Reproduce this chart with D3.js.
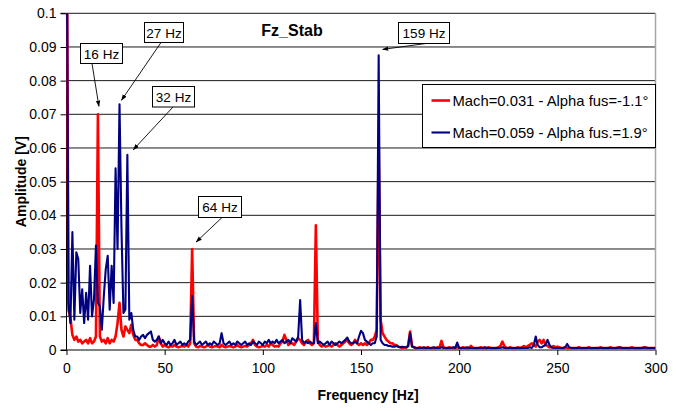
<!DOCTYPE html>
<html>
<head>
<meta charset="utf-8">
<script src="https://cdn.jsdelivr.net/npm/d3@7"></script>
<style>
  html, body { margin: 0; padding: 0; background: #fff; }
  svg { display: block; font-family: "Liberation Sans", Arial, sans-serif; }
</style>
</head>
<body>
<svg id="chart" width="685" height="411"></svg>
<script>
// ---- data (amplitude in mV, one sample per Hz, index = frequency in Hz) ----
const freqStepHz = 1;
const seriesNames = ["Mach=0.031 - Alpha fus=-1.1°", "Mach=0.059 - Alpha fus.=1.9°"];
const seriesColors = ["#ff0000", "#000080"];

const redAmp_mV = [
  150, 12, 9.5, 4.5, 3, 4, 2.5, 3, 2, 2.5,
  3, 2, 3.5, 2, 2.5, 4, 70, 4, 2.5, 3,
  2, 3.5, 2, 3, 2.5, 4, 8, 14, 6, 4,
  7, 6, 5, 7.5, 4.5, 3, 3, 2, 1.5, 1.5,
  2, 1.5, 1, 1, 1.5, 1, 1.5, 4, 2, 1,
  1.5, 1, 0.8, 1.2, 1, 1.5, 1, 0.8, 1, 1.2,
  1, 1.5, 1, 2, 30, 2, 1, 0.8, 1.2, 1,
  0.8, 1, 1.5, 1, 0.8, 1, 1.2, 1, 0.8, 1.5,
  1, 0.8, 1, 1.2, 1, 0.8, 1, 1.5, 1, 0.8,
  1, 1.2, 1, 1.5, 2, 3, 1.5, 1, 0.8, 1,
  1.2, 1, 1.5, 1, 2, 1.5, 1, 1.2, 1, 2,
  2.5, 4.5, 3, 1.5, 2, 2, 1.5, 2.5, 3.5, 3,
  2, 1.5, 2.5, 3, 2, 1.5, 2, 37, 3, 1.5,
  1, 1.5, 1, 1.2, 1.5, 1, 1.5, 2, 1.5, 1,
  1.5, 2, 2.5, 3, 2, 1.5, 2, 3, 2, 1.5,
  2, 1.5, 2, 1.5, 2, 3, 3, 4, 6, 62,
  9, 5, 4, 3, 2.5, 2, 2, 1.5, 1.5, 1,
  0.8, 0.6, 0.8, 0.7, 1.2, 5.5, 1.2, 0.8, 0.6, 0.6,
  0.8, 0.6, 0.6, 0.6, 0.8, 0.6, 0.6, 0.6, 0.6, 0.8,
  0.8, 2.7, 0.8, 0.6, 0.6, 0.8, 0.6, 0.6, 0.6, 0.8,
  0.6, 0.6, 0.8, 0.6, 0.6, 0.6, 1.2, 0.6, 0.6, 0.6,
  0.6, 0.8, 0.6, 0.6, 0.6, 0.8, 0.6, 0.6, 0.6, 0.6,
  0.8, 1.2, 2.5, 1.2, 0.6, 0.6, 0.8, 0.6, 0.6, 0.6,
  0.8, 0.6, 0.8, 1.2, 0.8, 1.2, 1.5, 2, 1.5, 1,
  2.5, 3, 2, 3, 1.5, 1.2, 0.8, 0.8, 1.2, 0.8,
  1, 0.8, 0.6, 0.6, 0.8, 0.6, 0.6, 0.6, 0.6, 0.6,
  0.6, 0.8, 0.6, 0.6, 0.6, 0.6, 0.8, 0.6, 0.6, 0.6,
  0.6, 0.6, 0.8, 0.6, 0.6, 0.6, 0.6, 0.8, 0.6, 0.6,
  0.6, 0.8, 0.6, 0.6, 0.6, 0.6, 0.6, 0.6, 0.8, 0.6,
  0.6, 0.6, 0.6, 0.6, 0.8, 0.6, 0.6, 0.6, 0.6, 0.6,
  0.6
];

const blueAmp_mV = [
  150, 14, 8, 35, 9, 29, 27, 11, 18, 8,
  17, 9, 25, 10, 15, 31, 14, 13, 6, 16,
  24, 28, 12, 25, 14, 54, 30, 73, 36, 11,
  12, 58, 9, 11, 6, 4, 4, 3, 4, 4.5,
  3.5, 4.5, 5, 5.5, 3, 2.5, 3, 4, 2, 3,
  2, 1.5, 2.5, 1.5, 2, 3, 1.5, 2, 2.5, 1.5,
  2, 1.5, 2.5, 3, 16, 2.5, 1.5, 2, 2.5, 1.5,
  2, 2.5, 1.5, 2, 1.5, 2.5, 2, 1.5, 2, 5,
  2, 1.5, 2, 2.5, 1.5, 2, 1.5, 2.5, 2, 1.5,
  2, 2.5, 1.5, 2, 1.5, 2.5, 2, 1.5, 2.5, 2,
  1.5, 2.5, 2, 3, 2, 2.5, 2, 3, 2, 2.5,
  3, 2, 2.5, 3, 2, 3.5, 3, 2.5, 4, 14.8,
  3, 2, 2.5, 2, 2.5, 2, 2, 8, 2, 2.5,
  2, 1.5, 2, 2.5, 1.5, 2.5, 2, 1.5, 2, 2.5,
  2, 2.5, 3, 3.7, 2.5, 2, 2, 2.5, 2, 4,
  5.7, 5, 3, 2.5, 2, 1.5, 2, 2, 4, 87.5,
  3, 2, 1.5, 1.5, 1.2, 1.2, 1, 1, 1.2, 1,
  0.8, 1, 0.8, 0.8, 1.2, 5, 1, 0.8, 0.6, 0.6,
  0.6, 0.6, 0.8, 0.6, 0.6, 0.6, 0.6, 0.8, 0.6, 0.6,
  0.6, 0.8, 0.6, 0.6, 0.6, 0.6, 0.6, 0.8, 0.6, 2.2,
  0.6, 0.6, 0.6, 0.6, 0.8, 0.6, 0.6, 0.6, 0.6, 0.6,
  0.6, 0.6, 0.6, 0.8, 0.6, 0.6, 0.6, 0.6, 0.6, 0.6,
  0.6, 0.6, 0.8, 0.6, 0.6, 0.6, 0.6, 0.6, 0.6, 0.6,
  0.6, 0.6, 0.6, 0.6, 0.6, 0.6, 0.8, 0.6, 1.5, 4,
  1.5, 0.8, 0.8, 1.2, 1.5, 3, 1.5, 0.8, 0.6, 0.6,
  0.6, 0.6, 0.6, 0.6, 0.8, 1.8, 0.8, 0.6, 0.6, 0.6,
  0.6, 0.6, 0.6, 0.6, 0.6, 0.6, 0.6, 0.6, 0.6, 0.6,
  0.6, 0.6, 0.6, 0.6, 0.6, 0.6, 0.6, 0.6, 0.6, 0.6,
  0.6, 0.6, 0.8, 0.6, 0.6, 0.6, 0.6, 0.6, 0.6, 0.6,
  0.6, 0.6, 0.6, 0.6, 0.6, 0.8, 0.6, 0.6, 0.6, 0.6,
  0.6
];

const yTickValues_mV = [0, 10, 20, 30, 40, 50, 60, 70, 80, 90, 100];
const yTickLabels = ["0", "0.01", "0.02", "0.03", "0.04", "0.05", "0.06", "0.07", "0.08", "0.09", "0.1"];
const xTickValues = [0, 50, 100, 150, 200, 250, 300];
const xTickLabels = ["0", "50", "100", "150", "200", "250", "300"];

const annotationLabels = ["16 Hz", "27 Hz", "32 Hz", "64 Hz", "159 Hz"];
const annotationFreqs = [16, 27, 32, 64, 159];
const annotationPeaks_mV = [70, 73, 58, 30, 87.5];

const chartTitle = "Fz_Stab";
const xTitle = "Frequency [Hz]";
const yTitle = "Amplitude [V]";

// ---- layout ----
const plot = { left: 66.5, right: 655.5, top: 13.3, bottom: 350 };
const svg = d3.select("#chart");

const x = d3.scaleLinear().domain([0, 300]).range([plot.left, plot.right]);
const y = d3.scaleLinear().domain([0, 100]).range([plot.bottom, plot.top]);

// gridlines
svg.append("g").selectAll("line").data(yTickValues_mV.slice(1)).join("line")
  .attr("x1", plot.left).attr("x2", plot.right)
  .attr("y1", d => y(d)).attr("y2", d => y(d))
  .attr("stroke", "#1a1a1a").attr("stroke-width", 1);

// right border
svg.append("line")
  .attr("x1", plot.right).attr("x2", plot.right)
  .attr("y1", plot.top).attr("y2", plot.bottom)
  .attr("stroke", "#a6a6a6").attr("stroke-width", 1.5);

// axes
const yAxis = d3.axisLeft(y).tickValues(yTickValues_mV)
  .tickFormat((d, i) => yTickLabels[i]).tickSize(6).tickPadding(4);
const gy = svg.append("g").attr("transform", `translate(${plot.left},0)`).call(yAxis);
gy.select(".domain").attr("stroke", "#000").attr("d", `M-6,${plot.top}H0V${plot.bottom}H-6`);
gy.selectAll(".tick line").attr("stroke", "#000");
gy.selectAll(".tick text").attr("font-size", 14).attr("fill", "#000")
  .attr("font-family", "Liberation Sans, Arial, sans-serif");

const xAxis = d3.axisBottom(x).tickValues(xTickValues)
  .tickFormat((d, i) => xTickLabels[i]).tickSize(5).tickPadding(8);
const gx = svg.append("g").attr("transform", `translate(0,${plot.bottom})`).call(xAxis);
gx.select(".domain").attr("stroke", "#000").attr("d", `M${plot.left},0H${plot.right}`);
gx.selectAll(".tick line").attr("stroke", "#000");
gx.selectAll(".tick text").attr("font-size", 14).attr("fill", "#000")
  .attr("font-family", "Liberation Sans, Arial, sans-serif");

// clip
svg.append("clipPath").attr("id", "clip").append("rect")
  .attr("x", plot.left - 2).attr("y", plot.top)
  .attr("width", plot.right - plot.left + 2).attr("height", plot.bottom - plot.top);

const line = d3.line()
  .x((d, i) => x(i * freqStepHz))
  .y(d => y(d));

const dataG = svg.append("g").attr("clip-path", "url(#clip)");
dataG.append("path").datum(redAmp_mV)
  .attr("d", line).attr("fill", "none")
  .attr("stroke", seriesColors[0]).attr("stroke-width", 2.6).attr("stroke-linejoin", "round");
dataG.append("path").datum(blueAmp_mV)
  .attr("d", line).attr("fill", "none")
  .attr("stroke", seriesColors[1]).attr("stroke-width", 2.1).attr("stroke-linejoin", "round");

// title
svg.append("text").attr("x", 292).attr("y", 35.5).attr("text-anchor", "middle")
  .attr("font-size", 16).attr("font-weight", "bold").text(chartTitle);
svg.append("text").attr("x", 368).attr("y", 400).attr("text-anchor", "middle")
  .attr("font-size", 14).attr("font-weight", "bold").text(xTitle);
svg.append("text").attr("transform", `translate(26,${(plot.top + plot.bottom) / 2}) rotate(-90)`)
  .attr("text-anchor", "middle")
  .attr("font-size", 14).attr("font-weight", "bold").text(yTitle);

// legend
const lg = svg.append("g");
lg.append("rect").attr("x", 422.5).attr("y", 84.5).attr("width", 233).attr("height", 63)
  .attr("fill", "#fff").attr("stroke", "#000").attr("stroke-width", 1);
seriesNames.forEach((name, i) => {
  const yy = 100.5 + i * 32;
  lg.append("line").attr("x1", 431.5).attr("x2", 450).attr("y1", yy).attr("y2", yy)
    .attr("stroke", seriesColors[i]).attr("stroke-width", i === 0 ? 2.6 : 2.1);
  lg.append("text").attr("x", 452.5).attr("y", yy + 5.5).attr("font-size", 14.8)
    .attr("fill", "#000").text(name);
});

// annotations (box positions are layout; arrow tips point to the peaks via scales)
svg.append("defs").append("marker").attr("id", "arrow")
  .attr("viewBox", "0 0 10 10").attr("refX", 9).attr("refY", 5)
  .attr("markerWidth", 7).attr("markerHeight", 7).attr("orient", "auto")
  .append("path").attr("d", "M0,1.5L10,5L0,8.5Z").attr("fill", "#000");

const boxes = [
  { x: 80.5, y: 43.5, w: 42, h: 20, ax: 92, tipDx: 1, tipDy: -8 },
  { x: 144.5, y: 22.5, w: 39, h: 20, ax: 161, tipDx: 2, tipDy: -4 },
  { x: 152.5, y: 86.5, w: 42, h: 20.5, ax: 173, tipDx: 4, tipDy: -5 },
  { x: 198.5, y: 196.5, w: 43, h: 21, ax: 222, tipDx: 4, tipDy: -7 },
  { x: 398.5, y: 22.5, w: 51, h: 21, ax: 426, tipDx: 4, tipDy: -6 }
];
annotationLabels.forEach((lab, i) => {
  const b = boxes[i];
  const tx = x(annotationFreqs[i]) + b.tipDx;
  const ty = y(annotationPeaks_mV[i]) + b.tipDy;
  svg.append("line").attr("x1", b.ax).attr("y1", b.y + b.h).attr("x2", tx).attr("y2", ty)
    .attr("stroke", "#000").attr("stroke-width", 0.9).attr("marker-end", "url(#arrow)");
  svg.append("rect").attr("x", b.x).attr("y", b.y).attr("width", b.w).attr("height", b.h)
    .attr("fill", "#fff").attr("stroke", "#000").attr("stroke-width", 1);
  svg.append("text").attr("x", b.x + b.w / 2).attr("y", b.y + b.h / 2 + 5)
    .attr("text-anchor", "middle").attr("font-size", 13.5).attr("fill", "#000").text(lab);
});
</script>
</body>
</html>
